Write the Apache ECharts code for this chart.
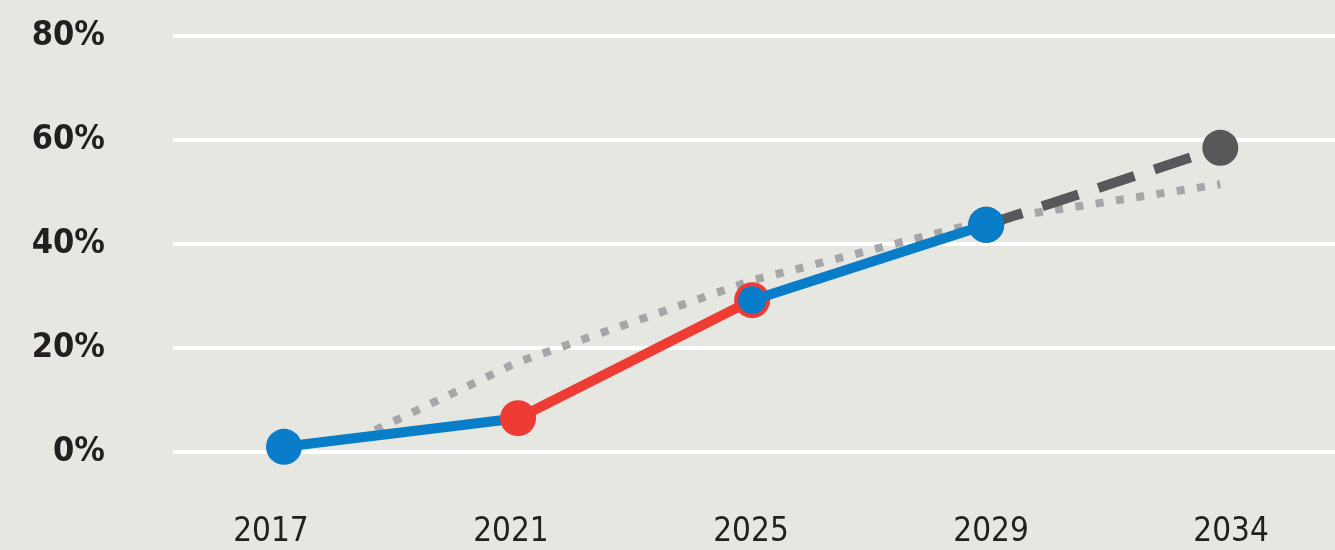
<!DOCTYPE html>
<html>
<head>
<meta charset="utf-8">
<script src="https://cdn.jsdelivr.net/npm/echarts@6/dist/echarts.min.js"></script>
<style>
html,body{margin:0;padding:0;background:#e7e7e1;}
#c{width:1335px;height:550px;}
</style>
</head>
<body>
<div id="c"></div>
<script>
// Categories (x axis labels), evenly spaced
const years = ['2017', '2021', '2025', '2029', '2034'];
// y axis ticks (percent)
const yTicks = [0, 20, 40, 60, 80];
// Measured (blue / red segments), in %
const blueEarly = [1.0, 6.5, null, null, null];
const redMid = [null, 6.5, 29.2, null, null];
const blueLate = [null, null, 29.2, 43.7, null];
// Projection (dark dashed)
const projection = [null, null, null, 43.7, 58.5];
// Earlier forecast (gray dotted): position in category index units and value
const forecastPos = [0.39, 1, 2, 3, 4];
const forecastVal = [4.2, 17.3, 33.0, 44.5, 51.5];

const BLUE = '#0a7dc8', RED = '#ee3b33', DARK = '#58585a', GRAYD = '#a6a6a8';

function withMarkers(vals, marks) {
  return vals.map((v, i) => {
    if (v == null) return [i, null];
    const s = marks[i];
    return { value: [i, v], symbol: s ? 'circle' : 'none', symbolSize: s || 0 };
  });
}

const chart = echarts.init(document.getElementById('c'), null, { renderer: 'canvas' });
chart.setOption({
  backgroundColor: '#e7e7e1',
  animation: false,
  grid: { left: 173, right: 0, top: 36, bottom: 98, containLabel: false },
  xAxis: [
    {
      type: 'value', min: -0.474, max: 4.49,
      axisLine: { show: false }, axisTick: { show: false },
      splitLine: { show: false }, axisLabel: { show: false }
    },
    {
      type: 'value', min: -0.408, max: 4.433, position: 'bottom',
      axisLine: { show: false }, axisTick: { show: false }, splitLine: { show: false },
      axisLabel: {
        customValues: years.map((y, i) => i),
        formatter: v => years[Math.round(v)] || '',
        fontFamily: '"DejaVu Sans Condensed", "DejaVu Sans", sans-serif',
        fontSize: 33, color: '#231f20', margin: 64
      }
    }
  ],
  yAxis: {
    type: 'value', min: yTicks[0], max: yTicks[yTicks.length - 1], interval: 20,
    axisLine: { show: false }, axisTick: { show: false },
    splitLine: { show: true, lineStyle: { color: '#ffffff', width: 4 } },
    axisLabel: {
      formatter: v => v + '%',
      fontFamily: '"DejaVu Sans Condensed", "DejaVu Sans", sans-serif', fontWeight: 'bold',
      fontSize: 34, color: '#231f20', margin: 68
    }
  },
  series: [
    {
      type: 'line', xAxisIndex: 0, z: 1,
      data: forecastPos.map((p, i) => [p, forecastVal[i]]),
      symbol: 'none',
      lineStyle: { color: GRAYD, width: 8, type: [8, 12.5], cap: 'butt' }
    },
    {
      type: 'line', xAxisIndex: 0, z: 2,
      data: withMarkers(projection, [0, 0, 0, 36, 36]),
      itemStyle: { color: DARK },
      lineStyle: { color: DARK, width: 10, type: [38, 21], cap: 'butt' }
    },
    {
      type: 'line', xAxisIndex: 0, z: 3,
      data: withMarkers(blueEarly, [36, 0, 0, 0, 0]),
      itemStyle: { color: BLUE },
      lineStyle: { color: BLUE, width: 10 }
    },
    {
      type: 'line', xAxisIndex: 0, z: 4,
      data: withMarkers(redMid, [0, 36, 36, 0, 0]),
      itemStyle: { color: RED },
      lineStyle: { color: RED, width: 10 }
    },
    {
      type: 'line', xAxisIndex: 0, z: 5,
      data: withMarkers(blueLate, [0, 0, 28, 36, 0]),
      itemStyle: { color: BLUE },
      lineStyle: { color: BLUE, width: 10 }
    }
  ]
});
</script>
</body>
</html>
